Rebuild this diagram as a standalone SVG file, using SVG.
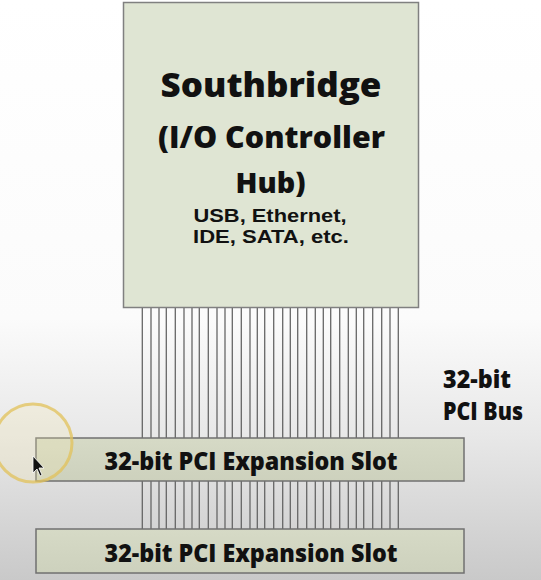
<svg xmlns="http://www.w3.org/2000/svg" width="541" height="580" viewBox="0 0 541 580">
<defs>
<linearGradient id="bg" x1="0" y1="0" x2="0" y2="580" gradientUnits="userSpaceOnUse">
<stop offset="0" stop-color="#ffffff"/>
<stop offset="0.55" stop-color="#fbfbfb"/>
<stop offset="0.75" stop-color="#e8e8e8"/>
<stop offset="1" stop-color="#c9c9c9"/>
</linearGradient>
<linearGradient id="slotfill" x1="0" y1="0" x2="0" y2="1">
<stop offset="0" stop-color="#d6dac6"/>
<stop offset="1" stop-color="#cdd1bd"/>
</linearGradient>
</defs>
<style>
.box{fill:#dfe5d3;stroke:#808080;stroke-width:1.5}
.slot{fill:url(#slotfill);stroke:#707070;stroke-width:1.5}
.t{font-family:"Open Sans","Liberation Sans",sans-serif;font-weight:800;fill:#111;text-anchor:middle}
.s{font-family:"Liberation Sans",sans-serif;font-weight:bold;fill:#111;text-anchor:middle}
.bus line{stroke:#666;stroke-width:1.3}
</style>
<rect width="541" height="580" fill="url(#bg)"/>
<g id="connectors" class="bus">
<g id="bus-upper">
<line x1="142.3" y1="307" x2="142.3" y2="438"/><line x1="151" y1="307" x2="151" y2="438"/><line x1="159" y1="307" x2="159" y2="438"/><line x1="166.3" y1="307" x2="166.3" y2="438"/>
<line x1="175.3" y1="307" x2="175.3" y2="438"/><line x1="184" y1="307" x2="184" y2="438"/><line x1="192" y1="307" x2="192" y2="438"/><line x1="199.3" y1="307" x2="199.3" y2="438"/>
<line x1="208.3" y1="307" x2="208.3" y2="438"/><line x1="217" y1="307" x2="217" y2="438"/><line x1="225" y1="307" x2="225" y2="438"/><line x1="232.3" y1="307" x2="232.3" y2="438"/>
<line x1="241.3" y1="307" x2="241.3" y2="438"/><line x1="250" y1="307" x2="250" y2="438"/><line x1="257.3" y1="307" x2="257.3" y2="438"/><line x1="264.7" y1="307" x2="264.7" y2="438"/>
<line x1="273.7" y1="307" x2="273.7" y2="438"/><line x1="282.7" y1="307" x2="282.7" y2="438"/><line x1="290.3" y1="307" x2="290.3" y2="438"/><line x1="297.7" y1="307" x2="297.7" y2="438"/>
<line x1="306.7" y1="307" x2="306.7" y2="438"/><line x1="315.3" y1="307" x2="315.3" y2="438"/><line x1="323.3" y1="307" x2="323.3" y2="438"/><line x1="330.7" y1="307" x2="330.7" y2="438"/>
<line x1="339.7" y1="307" x2="339.7" y2="438"/><line x1="348.3" y1="307" x2="348.3" y2="438"/><line x1="356.3" y1="307" x2="356.3" y2="438"/><line x1="363.7" y1="307" x2="363.7" y2="438"/>
<line x1="372.7" y1="307" x2="372.7" y2="438"/><line x1="381.7" y1="307" x2="381.7" y2="438"/><line x1="390" y1="307" x2="390" y2="438"/><line x1="398.3" y1="307" x2="398.3" y2="438"/>
</g>
<g id="bus-lower">
<line x1="142.3" y1="481" x2="142.3" y2="529"/><line x1="151" y1="481" x2="151" y2="529"/><line x1="159" y1="481" x2="159" y2="529"/><line x1="166.3" y1="481" x2="166.3" y2="529"/>
<line x1="175.3" y1="481" x2="175.3" y2="529"/><line x1="184" y1="481" x2="184" y2="529"/><line x1="192" y1="481" x2="192" y2="529"/><line x1="199.3" y1="481" x2="199.3" y2="529"/>
<line x1="208.3" y1="481" x2="208.3" y2="529"/><line x1="217" y1="481" x2="217" y2="529"/><line x1="225" y1="481" x2="225" y2="529"/><line x1="232.3" y1="481" x2="232.3" y2="529"/>
<line x1="241.3" y1="481" x2="241.3" y2="529"/><line x1="250" y1="481" x2="250" y2="529"/><line x1="257.3" y1="481" x2="257.3" y2="529"/><line x1="264.7" y1="481" x2="264.7" y2="529"/>
<line x1="273.7" y1="481" x2="273.7" y2="529"/><line x1="282.7" y1="481" x2="282.7" y2="529"/><line x1="290.3" y1="481" x2="290.3" y2="529"/><line x1="297.7" y1="481" x2="297.7" y2="529"/>
<line x1="306.7" y1="481" x2="306.7" y2="529"/><line x1="315.3" y1="481" x2="315.3" y2="529"/><line x1="323.3" y1="481" x2="323.3" y2="529"/><line x1="330.7" y1="481" x2="330.7" y2="529"/>
<line x1="339.7" y1="481" x2="339.7" y2="529"/><line x1="348.3" y1="481" x2="348.3" y2="529"/><line x1="356.3" y1="481" x2="356.3" y2="529"/><line x1="363.7" y1="481" x2="363.7" y2="529"/>
<line x1="372.7" y1="481" x2="372.7" y2="529"/><line x1="381.7" y1="481" x2="381.7" y2="529"/><line x1="390" y1="481" x2="390" y2="529"/><line x1="398.3" y1="481" x2="398.3" y2="529"/>
</g>
</g>
<g id="southbridge">
<rect class="box" x="123.5" y="2.5" width="295" height="305"/>
<text class="t" x="271" y="97" font-size="33" textLength="221" lengthAdjust="spacingAndGlyphs">Southbridge</text>
<text class="t" x="271.5" y="148" font-size="30" textLength="227" lengthAdjust="spacingAndGlyphs">(I/O Controller</text>
<text class="t" x="270.5" y="193" font-size="29" textLength="70" lengthAdjust="spacingAndGlyphs">Hub)</text>
<text class="s" x="270" y="221.5" font-size="18.5" textLength="153" lengthAdjust="spacingAndGlyphs">USB, Ethernet,</text>
<text class="s" x="271" y="243" font-size="18.5" textLength="156" lengthAdjust="spacingAndGlyphs">IDE, SATA, etc.</text>
</g>
<g id="bus-label">
<text class="t" x="477" y="388" font-size="25" textLength="68" lengthAdjust="spacingAndGlyphs">32-bit</text>
<text class="t" x="483" y="420" font-size="25" textLength="80" lengthAdjust="spacingAndGlyphs">PCI Bus</text>
</g>
<g id="slot1">
<rect class="slot" x="36" y="438" width="428" height="43"/>
<text class="t" x="251" y="470" font-size="24" textLength="293" lengthAdjust="spacingAndGlyphs">32-bit PCI Expansion Slot</text>
</g>
<g id="slot2">
<rect class="slot" x="36" y="529" width="428" height="44"/>
<text class="t" x="251" y="562" font-size="24" textLength="293" lengthAdjust="spacingAndGlyphs">32-bit PCI Expansion Slot</text>
</g>
<circle cx="33" cy="443" r="39" fill="#f3e6b0" fill-opacity="0.25" stroke="#e2c15a" stroke-width="3" stroke-opacity="0.75"/>
<path d="M33 456 L33 473 L37 469 L40 476 L42 475 L39 468 L44 468 Z" fill="#111" stroke="#fff" stroke-width="0.8"/>
</svg>
